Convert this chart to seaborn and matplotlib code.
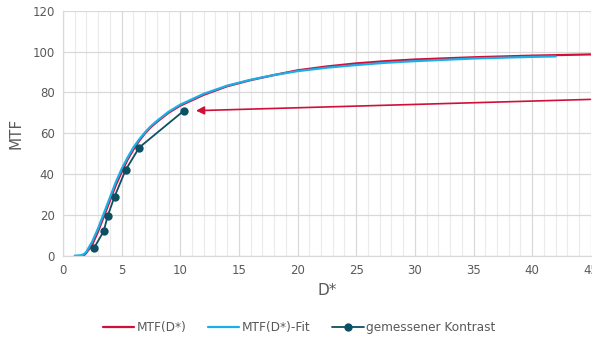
import numpy as np
import pandas as pd
import matplotlib
matplotlib.use("Agg")
import matplotlib.pyplot as plt
import seaborn as sns
from matplotlib.ticker import MultipleLocator

# MTF(D*)
mtf_x = [1.75, 2.0, 2.5, 3, 3.5, 4, 4.5, 5, 5.5, 6, 6.5, 7, 7.5, 8, 9, 10, 12, 14, 16,
         18, 20, 22.5, 25, 27.5, 30, 35, 40, 45]
mtf_y = [0, 1.5, 5.5, 12, 19.5, 27, 34.5, 41, 47, 52, 56.3, 60, 63, 65.5, 70, 73.5,
         78.8, 83, 86, 88.5, 90.8, 92.7, 94.2, 95.3, 96.1, 97.2, 98, 98.6]

# MTF(D*)-Fit
fit_x = [1.0, 1.5, 1.8, 2.0, 2.5, 3, 3.5, 4, 4.5, 5, 5.5, 6, 6.5, 7, 7.5, 8, 9, 10, 12,
         14, 16, 18, 20, 22.5, 25, 27.5, 30, 35, 40, 42]
fit_y = [0, 0.2, 0.8, 2, 7, 13.5, 21, 28.5, 36, 42.5, 48, 53, 57, 60.5, 63.5, 66,
         70.5, 74, 79.3, 83.3, 86.2, 88.5, 90.4, 92.1, 93.4, 94.5, 95.3, 96.6, 97.4, 97.6]

# gemessener Kontrast
meas_x = [2.67, 3.47, 3.81, 4.4, 5.34, 6.5, 10.3]
meas_y = [4, 12, 19.5, 29, 42, 53, 71]

red = "#D0103A"
blue = "#1AAFE6"
dark = "#0D4F63"
grey = "#595959"

sns.set_style("whitegrid")
plt.rcParams['font.family'] = ['DejaVu Sans']

fig = plt.figure(figsize=(5.92, 3.39), dpi=100)
ax = fig.add_axes([0.1064, 0.2457, 0.8916, 0.7227])

sns.lineplot(x=mtf_x, y=mtf_y, color=red, lw=1.6, label="MTF(D*)", ax=ax, sort=False)
sns.lineplot(x=fit_x, y=fit_y, color=blue, lw=1.6, label="MTF(D*)-Fit", ax=ax, sort=False)
sns.lineplot(x=meas_x, y=meas_y, color=dark, lw=1.3, marker="o", markersize=6,
             markeredgewidth=0, label="gemessener Kontrast", ax=ax, sort=False)

ax.annotate("", xy=(11.1, 71), xytext=(45.2, 76.6),
            arrowprops=dict(arrowstyle="-|>", color=red, lw=1.2, mutation_scale=12),
            annotation_clip=False)

ax.set_xlim(0, 45)
ax.set_ylim(0, 120)
ax.xaxis.set_major_locator(MultipleLocator(5))
ax.xaxis.set_minor_locator(MultipleLocator(1))
ax.yaxis.set_major_locator(MultipleLocator(20))
ax.grid(which="major", color="#D9D9D9", lw=0.9)
ax.grid(which="minor", axis="x", color="#EBEBEB", lw=0.8)
ax.grid(which="minor", axis="y", visible=False)
for s in ["top", "right"]:
    ax.spines[s].set_visible(False)
for s in ["left", "bottom"]:
    ax.spines[s].set_color("#D9D9D9")
    ax.spines[s].set_linewidth(0.9)

ax.tick_params(axis="both", which="both", length=0, labelsize=8.5, labelcolor=grey, pad=6)
ax.set_xlabel("D*", fontsize=11, color=grey, labelpad=4)
ax.set_ylabel("MTF", fontsize=11, color=grey, labelpad=6)

ax.get_legend().remove()
h, l = ax.get_legend_handles_labels()
fig.legend(h, l, loc="center", bbox_to_anchor=(0.505, 0.033), ncol=3, frameon=False,
           fontsize=8.7, labelcolor=grey, handlelength=2.6, handletextpad=0.2,
           columnspacing=1.8)

fig.savefig("out.png", dpi=100)
